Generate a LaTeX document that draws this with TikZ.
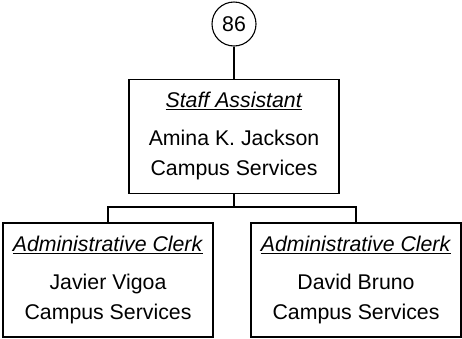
\documentclass[tikz,border=0pt]{standalone}
\usepackage{fontspec}
\setmainfont{Liberation Sans}
\usetikzlibrary{positioning}
\begin{document}
\begin{tikzpicture}
      [x=1pt, y=-1pt, line width=1.1pt, node distance=32pt,
       font=\fontsize{21.3}{30}\selectfont,
       bubble/.style={circle,draw,minimum size=44pt,inner sep=0pt},
       post/.style={rectangle,draw,minimum width=210pt,minimum height=114pt,align=center,inner sep=0pt}]
      \useasboundingbox (0,0) rectangle (462,338);
      \node[bubble] (num) at (234,24) {86};

      \node[post, below=of num] (assistant) {\underline{\textit{Staff Assistant}}\\[8pt]Amina K. Jackson\\Campus Services};

      \node[post] (clerkA) at (108,280) {\underline{\textit{Administrative Clerk}}\\[8pt]Javier Vigoa\\Campus Services};
      \node[post] (clerkB) at (356,280) {\underline{\textit{Administrative Clerk}}\\[8pt]David Bruno\\Campus Services};

      \coordinate (bus) at (234,207);

      \draw (num) -- (assistant);
      \draw (assistant) -- (bus);
      \draw (clerkA.north) |- (bus) -| (clerkB.north);
   \end{tikzpicture}
\end{document}
